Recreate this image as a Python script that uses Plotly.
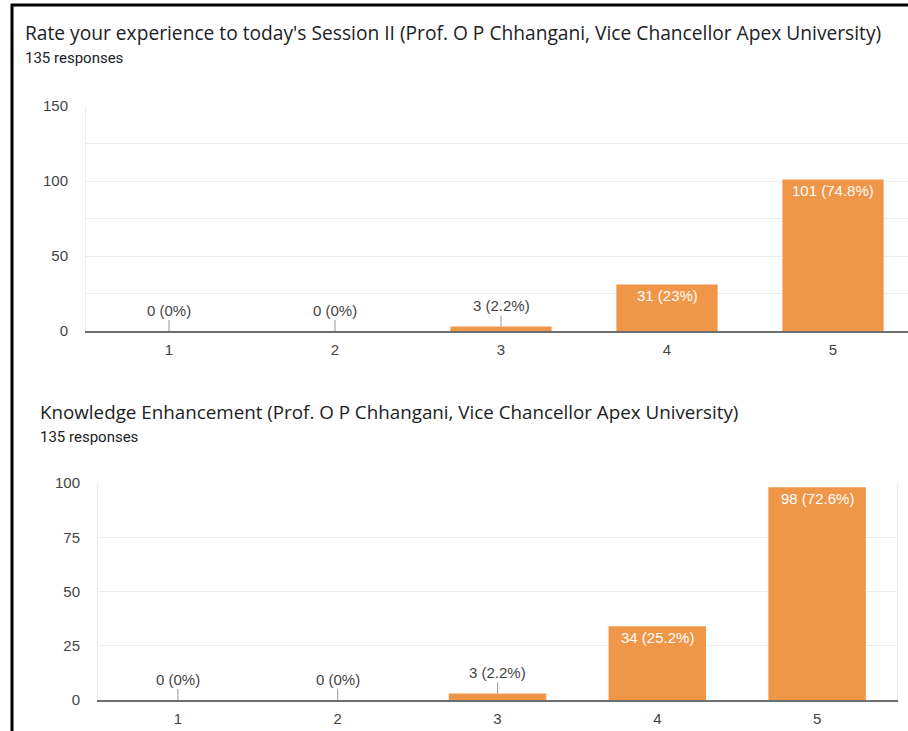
import plotly.graph_objects as go

# ---- data ----
categories = [1, 2, 3, 4, 5]
cat_labels = ["1", "2", "3", "4", "5"]
session_values = [0, 0, 3, 31, 101]
knowledge_values = [0, 0, 3, 34, 98]
total_responses = 135

title_top = "Rate your experience to today's Session II (Prof. O P Chhangani, Vice Chancellor Apex University)"
title_bottom = "Knowledge Enhancement (Prof. O P Chhangani, Vice Chancellor Apex University)"
responses_text = f"{total_responses} responses"

BAR_COLOR = "#F09649"
W, H = 908, 731
TXT = "#202124"
LBL = "#444444"
GRID = "#ececec"
NUMFONT = "Liberation Sans, Arial"


def px_x(v):
    return v / W


def px_y(v):
    return 1 - v / H


def label(v):
    pct = round(v / total_responses * 100, 1)
    return f"{v} ({pct:g}%)"


fig = go.Figure()
fig.add_trace(go.Bar(x=categories, y=session_values, marker=dict(color=BAR_COLOR, line=dict(width=0)),
                     width=0.61, xaxis="x", yaxis="y", hoverinfo="skip"))
fig.add_trace(go.Bar(x=categories, y=knowledge_values, marker=dict(color=BAR_COLOR, line=dict(width=0)),
                     width=0.61, xaxis="x2", yaxis="y2", hoverinfo="skip"))

annotations = []
for xref, yref, vals, thresh in [("x", "y", session_values, 15), ("x2", "y2", knowledge_values, 15)]:
    for c, v in zip(categories, vals):
        if v > thresh:
            annotations.append(dict(x=c, y=v, xref=xref, yref=yref, text=label(v), showarrow=False,
                                    yanchor="middle", yshift=-11,
                                    font=dict(family=NUMFONT, size=15, color="white")))
        else:
            annotations.append(dict(x=c, y=v, xref=xref, yref=yref, text=label(v), showarrow=True,
                                    arrowhead=0, arrowwidth=1, arrowcolor="#9a9a9a", ax=0, ay=-21,
                                    font=dict(family=NUMFONT, size=15, color=LBL)))

# titles
annotations += [
    dict(x=px_x(23), y=px_y(32), xref="paper", yref="paper", xanchor="left", yanchor="middle",
         text=title_top, showarrow=False, font=dict(family="Open Sans", size=19.2, color=TXT)),
    dict(x=px_x(23), y=px_y(58), xref="paper", yref="paper", xanchor="left", yanchor="middle",
         text=responses_text, showarrow=False, font=dict(family="Roboto", size=15, color=TXT)),
    dict(x=px_x(38), y=px_y(412), xref="paper", yref="paper", xanchor="left", yanchor="middle",
         text=title_bottom, showarrow=False, font=dict(family="Open Sans", size=18.8, color=TXT)),
    dict(x=px_x(38), y=px_y(437), xref="paper", yref="paper", xanchor="left", yanchor="middle",
         text=responses_text, showarrow=False, font=dict(family="Roboto", size=15, color=TXT)),
]

tickfont = dict(family=NUMFONT, size=15, color=LBL)

# top chart: x from 86px, 166px per category (extends past window)
top_range_end = 0.5 + (W - 86) / 166.0

fig.update_layout(
    width=W, height=H, margin=dict(l=0, r=0, t=0, b=0),
    paper_bgcolor="white", plot_bgcolor="white", showlegend=False,
    annotations=annotations,
    xaxis=dict(domain=[px_x(86), 1], range=[0.5, top_range_end], tickvals=categories, ticktext=cat_labels,
               showgrid=False, zeroline=False, showline=True, linecolor="#6e6e6e", linewidth=2,
               tickfont=tickfont, ticks="", ticklabelstandoff=4, anchor="y", automargin=False),
    yaxis=dict(domain=[px_y(331), px_y(106)], range=[0, 150], tickvals=[0, 50, 100, 150],
               showgrid=True, gridcolor=GRID, gridwidth=1, zeroline=False,
               showline=True, linecolor=GRID, linewidth=1,
               minor=dict(tickvals=[25, 75, 125], showgrid=True, gridcolor=GRID, gridwidth=1),
               tickfont=tickfont, ticks="", ticklabelstandoff=14, anchor="x", automargin=False),
    xaxis2=dict(domain=[px_x(98), px_x(897)], range=[0.5, 5.5], tickvals=categories, ticktext=cat_labels,
                showgrid=False, zeroline=False, showline=True, linecolor="#6e6e6e", linewidth=2,
                tickfont=tickfont, ticks="", ticklabelstandoff=4, anchor="y2", automargin=False),
    yaxis2=dict(domain=[px_y(700), px_y(483)], range=[0, 100], tickvals=[0, 25, 50, 75, 100],
                showgrid=True, gridcolor=GRID, gridwidth=1, zeroline=False,
                showline=True, linecolor=GRID, linewidth=1, mirror=True,
                tickfont=tickfont, ticks="", ticklabelstandoff=14, anchor="x2", automargin=False),
    shapes=[
        dict(type="line", xref="paper", yref="paper", x0=px_x(12), x1=px_x(12), y0=0, y1=px_y(4),
             line=dict(color="black", width=3)),
        dict(type="line", xref="paper", yref="paper", x0=px_x(11), x1=1, y0=px_y(5), y1=px_y(5),
             line=dict(color="black", width=3)),
    ],
)

fig.write_html("out.html",
               config={"displayModeBar": False},
               post_script="document.body.style.margin='0';document.body.style.overflow='hidden';")
